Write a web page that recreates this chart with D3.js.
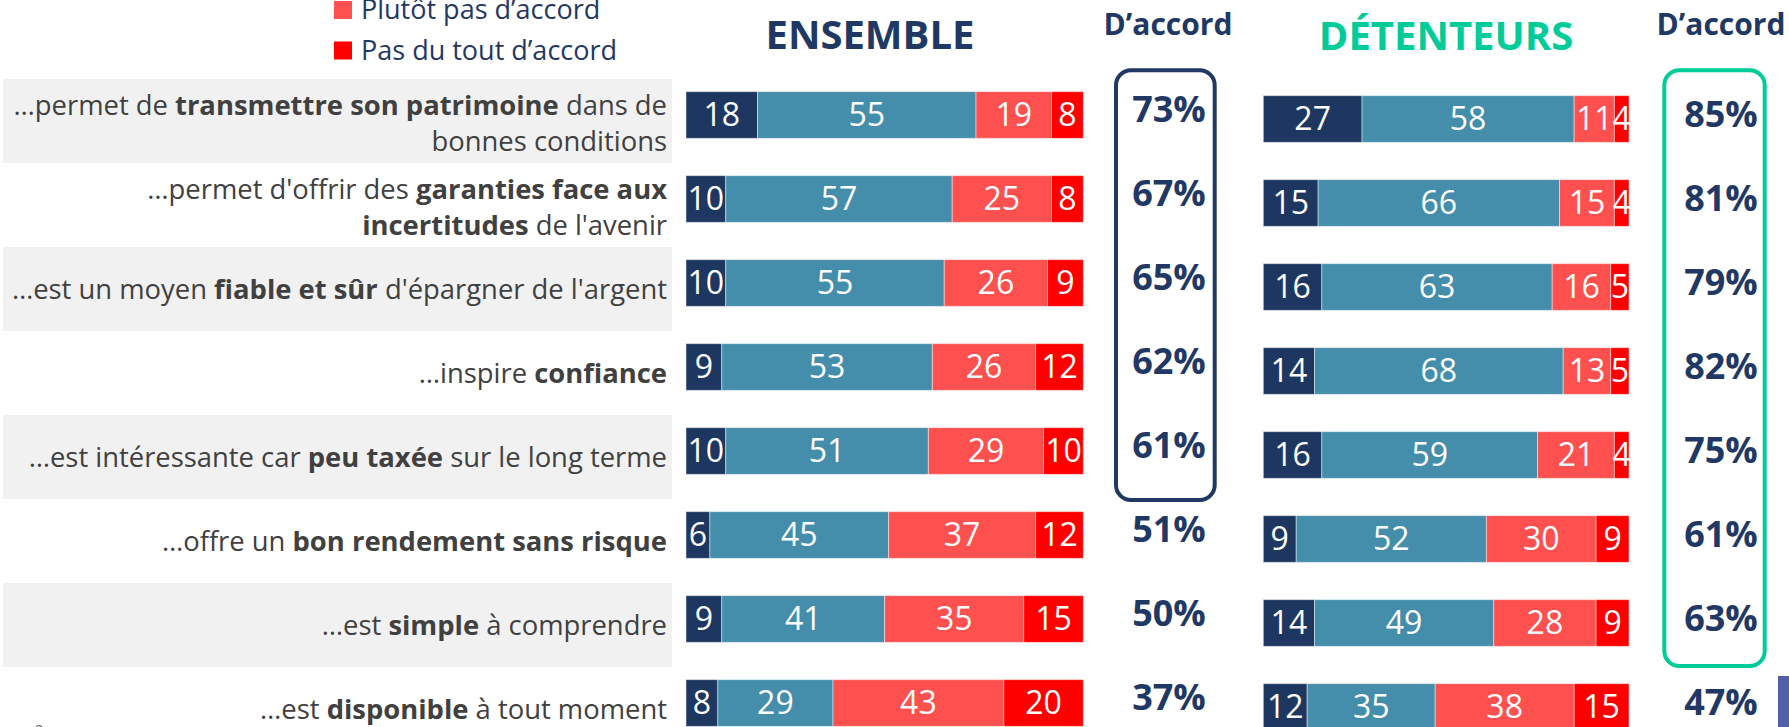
<!DOCTYPE html>
<html>
<head>
<meta charset="utf-8">
<script src="https://cdn.jsdelivr.net/npm/d3@7"></script>
<style>
body{margin:0;background:#fff;overflow:hidden}
text{font-family:"Open Sans",sans-serif}
</style>
</head>
<body>
<script>
(function(){

//item labels, one array of lines per row, each line a list of [text, bold]
var labels = [
    [[["…permet de ",0],["transmettre son patrimoine",1],[" dans de",0]],[["bonnes conditions",0]]],
    [[["…permet d'offrir des ",0],["garanties face aux",1]],[["incertitudes",1],[" de l'avenir",0]]],
    [[["…est un moyen ",0],["fiable et sûr",1],[" d'épargner de l'argent",0]]],
    [[["…inspire ",0],["confiance",1]]],
    [[["…est intéressante car ",0],["peu taxée",1],[" sur le long terme",0]]],
    [[["…offre un ",0],["bon rendement sans risque",1]]],
    [[["…est ",0],["simple",1],[" à comprendre",0]]],
    [[["…est ",0],["disponible",1],[" à tout moment",0]]]
];
var seriesNames = ["Tout à fait d'accord", "Plutôt d'accord", "Plutôt pas d'accord", "Pas du tout d'accord"];
var seriesColors = ["#1E3760", "#448EAB", "#FF5050", "#FF0000"];

//values per row: tout à fait, plutôt, plutôt pas, pas du tout
var ensemble = [[18,55,19,8],[10,57,25,8],[10,55,26,9],[9,53,26,12],[10,51,29,10],[6,45,37,12],[9,41,35,15],[8,29,43,20]];
var detenteurs = [[27,58,11,4],[15,66,15,4],[16,63,16,5],[14,68,13,5],[16,59,21,4],[9,52,30,9],[14,49,28,9],[12,35,38,15]];
var ensAccord = [73,67,65,62,61,51,50,37];
var detAccord = [85,81,79,82,75,61,63,47];

var navy = "#1F3864", green = "#00CC99";
var width = 1789, height = 727;

var svg = d3.select("body").append("svg")
    .attr("width", width)
    .attr("height", height);

//row scales (detenteurs bars sit a few px lower)
var yEns = d3.scaleBand().domain(d3.range(8)).range([73, 745]).paddingInner(0.444).paddingOuter(0.222);
var yDet = d3.scaleBand().domain(d3.range(8)).range([77, 749]).paddingInner(0.444).paddingOuter(0.222);
var step = yEns.step();

var xEns = d3.scaleLinear().domain([0, 100]).range([686, 1083.3]);
var xDet = d3.scaleLinear().domain([0, 100]).range([1263.3, 1629]);

//gray bands behind odd rows
svg.selectAll(".band")
    .data(d3.range(8).filter(function(i){ return i % 2 == 0; }))
    .enter().append("rect")
    .attr("class", "band")
    .attr("x", 3)
    .attr("width", 669)
    .attr("y", function(i){ return yEns(i) + yEns.bandwidth() / 2 - step / 2 + 6; })
    .attr("height", step)
    .style("fill", "#F1F1F1");

//row labels
labels.forEach(function(lines, i){
    var c = yEns(i) + yEns.bandwidth() / 2 + 6;
    lines.forEach(function(line, j){
        var yy = lines.length == 1 ? c + 10 : c - 6 + j * 36;
        var t = svg.append("text")
            .attr("x", 667)
            .attr("y", yy)
            .attr("text-anchor", "end")
            .style("font-size", "27.4px")
            .style("fill", "#404040");
        line.forEach(function(part){
            t.append("tspan")
                .style("font-weight", part[1] ? 700 : 400)
                .text(part[0]);
        });
    });
});

//legend (only the two lower entries are visible)
var legend = svg.selectAll(".legend")
    .data([2, 3])
    .enter().append("g")
    .attr("class", "legend")
    .attr("transform", function(d, i){ return "translate(334," + (1 + i * 40.5) + ")"; });
legend.append("rect")
    .attr("width", 18).attr("height", 18)
    .style("fill", function(d){ return seriesColors[d]; });
legend.append("text")
    .attr("x", 27).attr("y", 18)
    .style("font-size", "27px")
    .style("fill", navy)
    .text(function(d){ return seriesNames[d].replace("'", "’"); });

//headers
svg.append("text").attr("x", 870).attr("y", 49).attr("text-anchor", "middle")
    .style("font-size", "40px").style("font-weight", 700).style("fill", navy).text("ENSEMBLE");
svg.append("text").attr("x", 1446).attr("y", 50).attr("text-anchor", "middle")
    .style("font-size", "40px").style("font-weight", 700).style("fill", green).text("DÉTENTEURS");
[1168, 1721].forEach(function(cx){
    svg.append("text").attr("x", cx).attr("y", 35).attr("text-anchor", "middle")
        .style("font-size", "30px").style("font-weight", 700).style("fill", navy).text("D’accord");
});

//rounded boxes round the highlighted totals
svg.append("rect").attr("x", 1116).attr("y", 70.3).attr("width", 98.7).attr("height", 429.7)
    .attr("rx", 15).style("fill", "none").style("stroke", navy).style("stroke-width", 4);
svg.append("rect").attr("x", 1664.3).attr("y", 70.3).attr("width", 100.4).attr("height", 595.7)
    .attr("rx", 15).style("fill", "none").style("stroke", green).style("stroke-width", 4);

//stacked bars
function drawBars(data, x, y, cls){
    var rows = svg.selectAll("." + cls)
        .data(data)
        .enter().append("g")
        .attr("class", cls)
        .attr("transform", function(d, i){ return "translate(0," + y(i) + ")"; });

    var segs = rows.selectAll("g")
        .data(function(d){
            var acc = 0;
            return d.map(function(v, k){
                var s = {v: v, k: k, x0: acc, x1: acc + v};
                acc += v;
                return s;
            });
        })
        .enter().append("g");

    segs.append("rect")
        .attr("x", function(s){ return x(s.x0); })
        .attr("width", function(s){ return x(s.x1) - x(s.x0); })
        .attr("height", y.bandwidth())
        .style("fill", function(s){ return seriesColors[s.k]; })
        .style("stroke", "rgba(255,255,255,0.45)")
        .style("stroke-width", 1);

    segs.append("text")
        .attr("x", function(s){ return (x(s.x0) + x(s.x1)) / 2; })
        .attr("y", y.bandwidth() / 2 + 11.5)
        .attr("text-anchor", "middle")
        .style("font-size", "32px")
        .style("fill", "#fff")
        .text(function(s){ return s.v; });
}
drawBars(ensemble, xEns, yEns, "ens");
drawBars(detenteurs, xDet, yDet, "det");

//d'accord totals
svg.selectAll(".ensTot")
    .data(ensAccord)
    .enter().append("text")
    .attr("class", "ensTot")
    .attr("x", 1169)
    .attr("y", function(d, i){ return yEns(i) + yEns.bandwidth() / 2 + 7; })
    .attr("text-anchor", "middle")
    .style("font-size", "36px").style("font-weight", 700).style("fill", navy)
    .text(function(d){ return d + "%"; });
svg.selectAll(".detTot")
    .data(detAccord)
    .enter().append("text")
    .attr("class", "detTot")
    .attr("x", 1721)
    .attr("y", function(d, i){ return yDet(i) + yDet.bandwidth() / 2 + 7.5; })
    .attr("text-anchor", "middle")
    .style("font-size", "36px").style("font-weight", 700).style("fill", navy)
    .text(function(d){ return d + "%"; });

//page number and slide edge mark
svg.append("text").attr("x", 34).attr("y", 738).style("font-size", "18px").style("fill", "#808080").text("9");
svg.append("rect").attr("x", 1778).attr("y", 676).attr("width", 11).attr("height", 51).style("fill", "#5060A8");

})();
</script>
</body>
</html>
